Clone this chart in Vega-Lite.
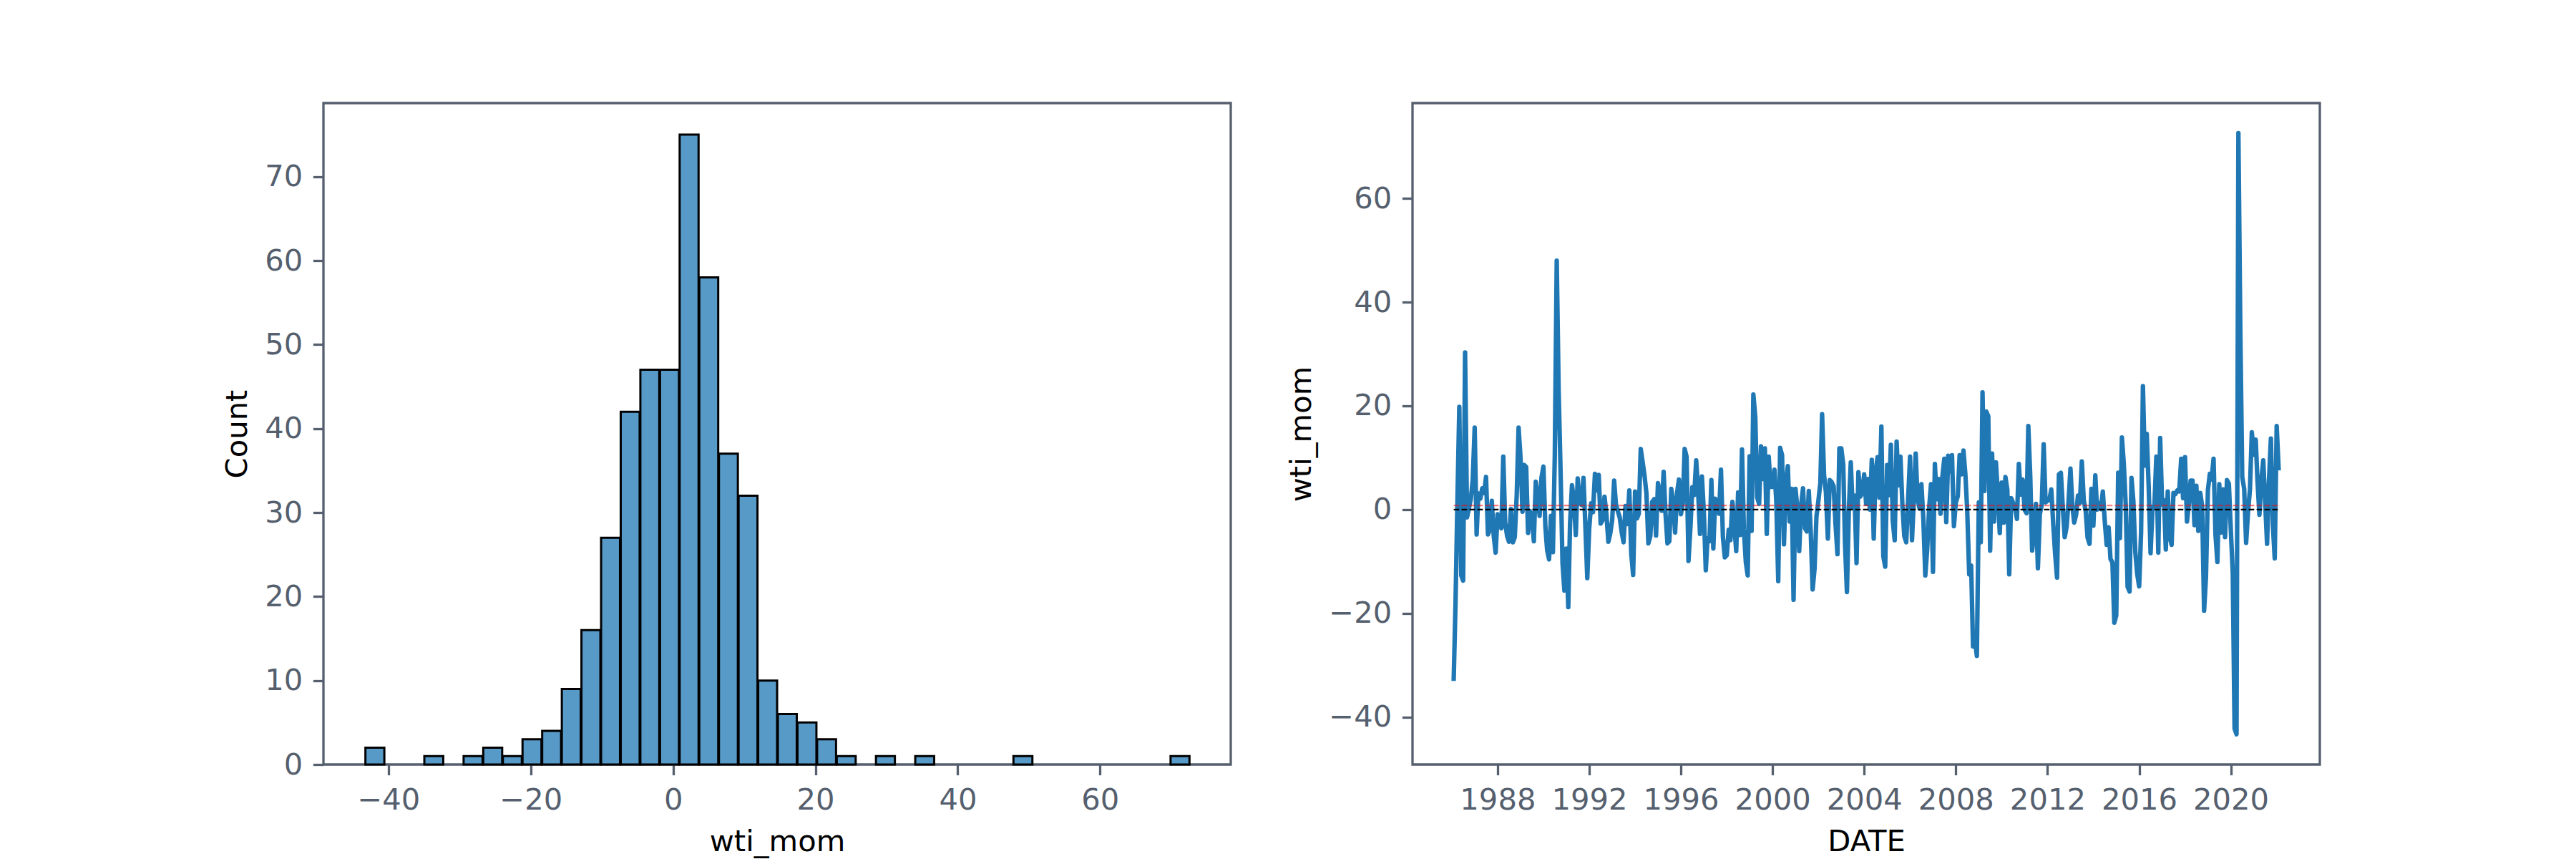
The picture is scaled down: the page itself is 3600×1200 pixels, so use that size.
{
"$schema": "https://vega.github.io/schema/vega-lite/v6.json",
"background": "white",
"padding": {"left": 309, "top": 142, "right": 0, "bottom": 0},
"bounds": "flush",
"spacing": 254,
"config": {
  "view": {"stroke": "#555f6e", "strokeWidth": 3.3},
  "axis": {"domain": false, "grid": false, "tickColor": "#555f6e", "tickWidth": 3.3, "tickSize": 14.6, "labelPadding": 14.6, "labelFont": "DejaVu Sans", "labelFontSize": 41.7, "labelColor": "#555f6e", "titleFont": "DejaVu Sans", "titleFontSize": 41.7, "titleFontWeight": "normal", "titleColor": "black", "titlePadding": 16.7}
},
"datasets": {
  "hist": [
    {"bin_start": -43.34, "bin_end": -40.58, "count": 2},
    {"bin_start": -35.06, "bin_end": -32.30, "count": 1},
    {"bin_start": -29.54, "bin_end": -26.78, "count": 1},
    {"bin_start": -26.78, "bin_end": -24.02, "count": 2},
    {"bin_start": -24.02, "bin_end": -21.26, "count": 1},
    {"bin_start": -21.26, "bin_end": -18.50, "count": 3},
    {"bin_start": -18.50, "bin_end": -15.74, "count": 4},
    {"bin_start": -15.74, "bin_end": -12.98, "count": 9},
    {"bin_start": -12.98, "bin_end": -10.22, "count": 16},
    {"bin_start": -10.22, "bin_end": -7.46, "count": 27},
    {"bin_start": -7.46, "bin_end": -4.70, "count": 42},
    {"bin_start": -4.70, "bin_end": -1.94, "count": 47},
    {"bin_start": -1.94, "bin_end": 0.82, "count": 47},
    {"bin_start": 0.82, "bin_end": 3.58, "count": 75},
    {"bin_start": 3.58, "bin_end": 6.34, "count": 58},
    {"bin_start": 6.34, "bin_end": 9.10, "count": 37},
    {"bin_start": 9.10, "bin_end": 11.86, "count": 32},
    {"bin_start": 11.86, "bin_end": 14.62, "count": 10},
    {"bin_start": 14.62, "bin_end": 17.38, "count": 6},
    {"bin_start": 17.38, "bin_end": 20.14, "count": 5},
    {"bin_start": 20.14, "bin_end": 22.90, "count": 3},
    {"bin_start": 22.90, "bin_end": 25.66, "count": 1},
    {"bin_start": 28.41, "bin_end": 31.17, "count": 1},
    {"bin_start": 33.93, "bin_end": 36.69, "count": 1},
    {"bin_start": 47.73, "bin_end": 50.49, "count": 1},
    {"bin_start": 69.81, "bin_end": 72.57, "count": 1}
  ],
  "series": [
{"DATE":"1986-02-01","wti_mom":-32.6},{"DATE":"1986-03-01","wti_mom":-18.4},{"DATE":"1986-04-01","wti_mom":1.8},{"DATE":"1986-05-01","wti_mom":19.8},{"DATE":"1986-06-01","wti_mom":-12.7},{"DATE":"1986-07-01","wti_mom":-13.7},{"DATE":"1986-08-01","wti_mom":30.3},{"DATE":"1986-09-01","wti_mom":-1.5},{"DATE":"1986-10-01","wti_mom":0.2},{"DATE":"1986-11-01","wti_mom":2.1},{"DATE":"1986-12-01","wti_mom":5.8},
{"DATE":"1987-01-01","wti_mom":15.8},{"DATE":"1987-02-01","wti_mom":-4.8},{"DATE":"1987-03-01","wti_mom":3.1},{"DATE":"1987-04-01","wti_mom":2.1},{"DATE":"1987-05-01","wti_mom":4.1},{"DATE":"1987-06-01","wti_mom":3.2},{"DATE":"1987-07-01","wti_mom":6.3},{"DATE":"1987-08-01","wti_mom":-4.8},{"DATE":"1987-09-01","wti_mom":-3.8},{"DATE":"1987-10-01","wti_mom":1.7},{"DATE":"1987-11-01","wti_mom":-5.1},{"DATE":"1987-12-01","wti_mom":-8.3},
{"DATE":"1988-01-01","wti_mom":-0.9},{"DATE":"1988-02-01","wti_mom":-1.9},{"DATE":"1988-03-01","wti_mom":-3.6},{"DATE":"1988-04-01","wti_mom":10.2},{"DATE":"1988-05-01","wti_mom":-2.5},{"DATE":"1988-06-01","wti_mom":-5.1},{"DATE":"1988-07-01","wti_mom":-6.2},{"DATE":"1988-08-01","wti_mom":0.1},{"DATE":"1988-09-01","wti_mom":-6.3},{"DATE":"1988-10-01","wti_mom":-5.3},{"DATE":"1988-11-01","wti_mom":2.7},{"DATE":"1988-12-01","wti_mom":15.8},
{"DATE":"1989-01-01","wti_mom":10.0},{"DATE":"1989-02-01","wti_mom":-0.4},{"DATE":"1989-03-01","wti_mom":8.6},{"DATE":"1989-04-01","wti_mom":8.2},{"DATE":"1989-05-01","wti_mom":-4.5},{"DATE":"1989-06-01","wti_mom":-0.3},{"DATE":"1989-07-01","wti_mom":-1.3},{"DATE":"1989-08-01","wti_mom":-6.1},{"DATE":"1989-09-01","wti_mom":5.4},{"DATE":"1989-10-01","wti_mom":2.6},{"DATE":"1989-11-01","wti_mom":-1.2},{"DATE":"1989-12-01","wti_mom":6.2},
{"DATE":"1990-01-01","wti_mom":8.3},{"DATE":"1990-02-01","wti_mom":-3.3},{"DATE":"1990-03-01","wti_mom":-7.8},{"DATE":"1990-04-01","wti_mom":-9.6},{"DATE":"1990-05-01","wti_mom":-1.2},{"DATE":"1990-06-01","wti_mom":-8.2},{"DATE":"1990-07-01","wti_mom":10.5},{"DATE":"1990-08-01","wti_mom":48.0},{"DATE":"1990-09-01","wti_mom":22.7},{"DATE":"1990-10-01","wti_mom":7.5},{"DATE":"1990-11-01","wti_mom":-10.3},{"DATE":"1990-12-01","wti_mom":-15.6},
{"DATE":"1991-01-01","wti_mom":-7.5},{"DATE":"1991-02-01","wti_mom":-18.8},{"DATE":"1991-03-01","wti_mom":-2.8},{"DATE":"1991-04-01","wti_mom":4.7},{"DATE":"1991-05-01","wti_mom":1.9},{"DATE":"1991-06-01","wti_mom":-4.9},{"DATE":"1991-07-01","wti_mom":6.0},{"DATE":"1991-08-01","wti_mom":1.4},{"DATE":"1991-09-01","wti_mom":0.9},{"DATE":"1991-10-01","wti_mom":6.1},{"DATE":"1991-11-01","wti_mom":-3.3},{"DATE":"1991-12-01","wti_mom":-13.2},
{"DATE":"1992-01-01","wti_mom":-3.6},{"DATE":"1992-02-01","wti_mom":1.2},{"DATE":"1992-03-01","wti_mom":-0.5},{"DATE":"1992-04-01","wti_mom":6.9},{"DATE":"1992-05-01","wti_mom":3.7},{"DATE":"1992-06-01","wti_mom":6.7},{"DATE":"1992-07-01","wti_mom":-2.7},{"DATE":"1992-08-01","wti_mom":-2.0},{"DATE":"1992-09-01","wti_mom":2.5},{"DATE":"1992-10-01","wti_mom":-0.9},{"DATE":"1992-11-01","wti_mom":-6.2},{"DATE":"1992-12-01","wti_mom":-4.6},
{"DATE":"1993-01-01","wti_mom":-2.0},{"DATE":"1993-02-01","wti_mom":5.6},{"DATE":"1993-03-01","wti_mom":1.1},{"DATE":"1993-04-01","wti_mom":-0.3},{"DATE":"1993-05-01","wti_mom":-1.5},{"DATE":"1993-06-01","wti_mom":-4.3},{"DATE":"1993-07-01","wti_mom":-6.3},{"DATE":"1993-08-01","wti_mom":0.7},{"DATE":"1993-09-01","wti_mom":-2.8},{"DATE":"1993-10-01","wti_mom":3.7},{"DATE":"1993-11-01","wti_mom":-8.5},{"DATE":"1993-12-01","wti_mom":-12.6},
{"DATE":"1994-01-01","wti_mom":3.5},{"DATE":"1994-02-01","wti_mom":-1.7},{"DATE":"1994-03-01","wti_mom":-0.8},{"DATE":"1994-04-01","wti_mom":11.7},{"DATE":"1994-05-01","wti_mom":9.2},{"DATE":"1994-06-01","wti_mom":6.5},{"DATE":"1994-07-01","wti_mom":3.1},{"DATE":"1994-08-01","wti_mom":-6.5},{"DATE":"1994-09-01","wti_mom":-5.1},{"DATE":"1994-10-01","wti_mom":1.5},{"DATE":"1994-11-01","wti_mom":2.0},{"DATE":"1994-12-01","wti_mom":-5.0},
{"DATE":"1995-01-01","wti_mom":5.1},{"DATE":"1995-02-01","wti_mom":2.9},{"DATE":"1995-03-01","wti_mom":-0.2},{"DATE":"1995-04-01","wti_mom":7.3},{"DATE":"1995-05-01","wti_mom":-0.8},{"DATE":"1995-06-01","wti_mom":-6.5},{"DATE":"1995-07-01","wti_mom":-6.1},{"DATE":"1995-08-01","wti_mom":4.0},{"DATE":"1995-09-01","wti_mom":1.2},{"DATE":"1995-10-01","wti_mom":-4.4},{"DATE":"1995-11-01","wti_mom":3.2},{"DATE":"1995-12-01","wti_mom":5.8},
{"DATE":"1996-01-01","wti_mom":-0.9},{"DATE":"1996-02-01","wti_mom":1.2},{"DATE":"1996-03-01","wti_mom":11.7},{"DATE":"1996-04-01","wti_mom":10.2},{"DATE":"1996-05-01","wti_mom":-9.9},{"DATE":"1996-06-01","wti_mom":-3.5},{"DATE":"1996-07-01","wti_mom":4.3},{"DATE":"1996-08-01","wti_mom":2.8},{"DATE":"1996-09-01","wti_mom":9.5},{"DATE":"1996-10-01","wti_mom":3.8},{"DATE":"1996-11-01","wti_mom":-4.7},{"DATE":"1996-12-01","wti_mom":6.4},
{"DATE":"1997-01-01","wti_mom":-0.4},{"DATE":"1997-02-01","wti_mom":-11.7},{"DATE":"1997-03-01","wti_mom":-5.5},{"DATE":"1997-04-01","wti_mom":-6.1},{"DATE":"1997-05-01","wti_mom":5.7},{"DATE":"1997-06-01","wti_mom":-7.5},{"DATE":"1997-07-01","wti_mom":2.1},{"DATE":"1997-08-01","wti_mom":1.5},{"DATE":"1997-09-01","wti_mom":-0.8},{"DATE":"1997-10-01","wti_mom":7.7},{"DATE":"1997-11-01","wti_mom":-5.3},{"DATE":"1997-12-01","wti_mom":-9.2},
{"DATE":"1998-01-01","wti_mom":-8.8},{"DATE":"1998-02-01","wti_mom":-3.9},{"DATE":"1998-03-01","wti_mom":-5.9},{"DATE":"1998-04-01","wti_mom":1.5},{"DATE":"1998-05-01","wti_mom":-2.9},{"DATE":"1998-06-01","wti_mom":-8.0},{"DATE":"1998-07-01","wti_mom":3.3},{"DATE":"1998-08-01","wti_mom":-4.9},{"DATE":"1998-09-01","wti_mom":11.6},{"DATE":"1998-10-01","wti_mom":-3.8},{"DATE":"1998-11-01","wti_mom":-10.1},{"DATE":"1998-12-01","wti_mom":-12.7},
{"DATE":"1999-01-01","wti_mom":10.3},{"DATE":"1999-02-01","wti_mom":-4.1},{"DATE":"1999-03-01","wti_mom":22.2},{"DATE":"1999-04-01","wti_mom":17.9},{"DATE":"1999-05-01","wti_mom":2.4},{"DATE":"1999-06-01","wti_mom":1.1},{"DATE":"1999-07-01","wti_mom":12.2},{"DATE":"1999-08-01","wti_mom":5.9},{"DATE":"1999-09-01","wti_mom":11.8},{"DATE":"1999-10-01","wti_mom":-4.7},{"DATE":"1999-11-01","wti_mom":10.2},{"DATE":"1999-12-01","wti_mom":4.4},
{"DATE":"2000-01-01","wti_mom":4.4},{"DATE":"2000-02-01","wti_mom":7.7},{"DATE":"2000-03-01","wti_mom":1.6},{"DATE":"2000-04-01","wti_mom":-13.8},{"DATE":"2000-05-01","wti_mom":11.9},{"DATE":"2000-06-01","wti_mom":10.5},{"DATE":"2000-07-01","wti_mom":-6.7},{"DATE":"2000-08-01","wti_mom":5.3},{"DATE":"2000-09-01","wti_mom":8.4},{"DATE":"2000-10-01","wti_mom":-2.3},{"DATE":"2000-11-01","wti_mom":4.0},{"DATE":"2000-12-01","wti_mom":-17.4},
{"DATE":"2001-01-01","wti_mom":4.0},{"DATE":"2001-02-01","wti_mom":0.1},{"DATE":"2001-03-01","wti_mom":-8.0},{"DATE":"2001-04-01","wti_mom":0.9},{"DATE":"2001-05-01","wti_mom":4.1},{"DATE":"2001-06-01","wti_mom":-3.6},{"DATE":"2001-07-01","wti_mom":-4.2},{"DATE":"2001-08-01","wti_mom":3.6},{"DATE":"2001-09-01","wti_mom":-4.3},{"DATE":"2001-10-01","wti_mom":-15.4},{"DATE":"2001-11-01","wti_mom":-11.4},{"DATE":"2001-12-01","wti_mom":-1.3},
{"DATE":"2002-01-01","wti_mom":1.7},{"DATE":"2002-02-01","wti_mom":5.1},{"DATE":"2002-03-01","wti_mom":18.4},{"DATE":"2002-04-01","wti_mom":6.7},{"DATE":"2002-05-01","wti_mom":3.3},{"DATE":"2002-06-01","wti_mom":-5.6},{"DATE":"2002-07-01","wti_mom":5.7},{"DATE":"2002-08-01","wti_mom":5.3},{"DATE":"2002-09-01","wti_mom":4.5},{"DATE":"2002-10-01","wti_mom":-2.8},{"DATE":"2002-11-01","wti_mom":-8.6},{"DATE":"2002-12-01","wti_mom":11.8},
{"DATE":"2003-01-01","wti_mom":11.8},{"DATE":"2003-02-01","wti_mom":8.7},{"DATE":"2003-03-01","wti_mom":-6.5},{"DATE":"2003-04-01","wti_mom":-15.9},{"DATE":"2003-05-01","wti_mom":-0.2},{"DATE":"2003-06-01","wti_mom":9.1},{"DATE":"2003-07-01","wti_mom":0.3},{"DATE":"2003-08-01","wti_mom":2.7},{"DATE":"2003-09-01","wti_mom":-10.3},{"DATE":"2003-10-01","wti_mom":7.2},{"DATE":"2003-11-01","wti_mom":2.5},{"DATE":"2003-12-01","wti_mom":3.3},
{"DATE":"2004-01-01","wti_mom":6.8},{"DATE":"2004-02-01","wti_mom":1.1},{"DATE":"2004-03-01","wti_mom":5.9},{"DATE":"2004-04-01","wti_mom":0.0},{"DATE":"2004-05-01","wti_mom":9.6},{"DATE":"2004-06-01","wti_mom":-5.6},{"DATE":"2004-07-01","wti_mom":7.2},{"DATE":"2004-08-01","wti_mom":10.1},{"DATE":"2004-09-01","wti_mom":2.3},{"DATE":"2004-10-01","wti_mom":16.0},{"DATE":"2004-11-01","wti_mom":-9.0},{"DATE":"2004-12-01","wti_mom":-11.0},
{"DATE":"2005-01-01","wti_mom":8.6},{"DATE":"2005-02-01","wti_mom":2.8},{"DATE":"2005-03-01","wti_mom":12.5},{"DATE":"2005-04-01","wti_mom":-2.2},{"DATE":"2005-05-01","wti_mom":-5.9},{"DATE":"2005-06-01","wti_mom":13.1},{"DATE":"2005-07-01","wti_mom":4.7},{"DATE":"2005-08-01","wti_mom":10.2},{"DATE":"2005-09-01","wti_mom":0.9},{"DATE":"2005-10-01","wti_mom":-5.1},{"DATE":"2005-11-01","wti_mom":-6.3},{"DATE":"2005-12-01","wti_mom":1.9},
{"DATE":"2006-01-01","wti_mom":10.2},{"DATE":"2006-02-01","wti_mom":-5.9},{"DATE":"2006-03-01","wti_mom":1.7},{"DATE":"2006-04-01","wti_mom":10.8},{"DATE":"2006-05-01","wti_mom":2.0},{"DATE":"2006-06-01","wti_mom":0.2},{"DATE":"2006-07-01","wti_mom":4.9},{"DATE":"2006-08-01","wti_mom":-1.8},{"DATE":"2006-09-01","wti_mom":-12.7},{"DATE":"2006-10-01","wti_mom":-7.7},{"DATE":"2006-11-01","wti_mom":0.3},{"DATE":"2006-12-01","wti_mom":4.9},
{"DATE":"2007-01-01","wti_mom":-12.0},{"DATE":"2007-02-01","wti_mom":8.8},{"DATE":"2007-03-01","wti_mom":2.0},{"DATE":"2007-04-01","wti_mom":5.9},{"DATE":"2007-05-01","wti_mom":-0.8},{"DATE":"2007-06-01","wti_mom":6.4},{"DATE":"2007-07-01","wti_mom":9.8},{"DATE":"2007-08-01","wti_mom":-2.4},{"DATE":"2007-09-01","wti_mom":10.4},{"DATE":"2007-10-01","wti_mom":7.4},{"DATE":"2007-11-01","wti_mom":10.5},{"DATE":"2007-12-01","wti_mom":-3.2},
{"DATE":"2008-01-01","wti_mom":1.4},{"DATE":"2008-02-01","wti_mom":2.6},{"DATE":"2008-03-01","wti_mom":10.5},{"DATE":"2008-04-01","wti_mom":6.8},{"DATE":"2008-05-01","wti_mom":11.4},{"DATE":"2008-06-01","wti_mom":6.8},{"DATE":"2008-07-01","wti_mom":-0.4},{"DATE":"2008-08-01","wti_mom":-12.5},{"DATE":"2008-09-01","wti_mom":-10.8},{"DATE":"2008-10-01","wti_mom":-26.4},{"DATE":"2008-11-01","wti_mom":-25.2},{"DATE":"2008-12-01","wti_mom":-28.2},
{"DATE":"2009-01-01","wti_mom":1.4},{"DATE":"2009-02-01","wti_mom":-6.3},{"DATE":"2009-03-01","wti_mom":22.6},{"DATE":"2009-04-01","wti_mom":3.6},{"DATE":"2009-05-01","wti_mom":18.9},{"DATE":"2009-06-01","wti_mom":18.0},{"DATE":"2009-07-01","wti_mom":-7.9},{"DATE":"2009-08-01","wti_mom":10.8},{"DATE":"2009-09-01","wti_mom":-2.3},{"DATE":"2009-10-01","wti_mom":9.1},{"DATE":"2009-11-01","wti_mom":3.0},{"DATE":"2009-12-01","wti_mom":-4.5},
{"DATE":"2010-01-01","wti_mom":5.2},{"DATE":"2010-02-01","wti_mom":-2.5},{"DATE":"2010-03-01","wti_mom":6.3},{"DATE":"2010-04-01","wti_mom":3.8},{"DATE":"2010-05-01","wti_mom":-12.5},{"DATE":"2010-06-01","wti_mom":2.2},{"DATE":"2010-07-01","wti_mom":1.3},{"DATE":"2010-08-01","wti_mom":0.4},{"DATE":"2010-09-01","wti_mom":-1.8},{"DATE":"2010-10-01","wti_mom":8.8},{"DATE":"2010-11-01","wti_mom":2.9},{"DATE":"2010-12-01","wti_mom":5.8},
{"DATE":"2011-01-01","wti_mom":0.0},{"DATE":"2011-02-01","wti_mom":-0.7},{"DATE":"2011-03-01","wti_mom":16.1},{"DATE":"2011-04-01","wti_mom":6.5},{"DATE":"2011-05-01","wti_mom":-7.9},{"DATE":"2011-06-01","wti_mom":-4.6},{"DATE":"2011-07-01","wti_mom":1.1},{"DATE":"2011-08-01","wti_mom":-11.3},{"DATE":"2011-09-01","wti_mom":-0.9},{"DATE":"2011-10-01","wti_mom":0.9},{"DATE":"2011-11-01","wti_mom":12.6},{"DATE":"2011-12-01","wti_mom":1.4},
{"DATE":"2012-01-01","wti_mom":1.7},{"DATE":"2012-02-01","wti_mom":1.9},{"DATE":"2012-03-01","wti_mom":3.9},{"DATE":"2012-04-01","wti_mom":-2.7},{"DATE":"2012-05-01","wti_mom":-8.4},{"DATE":"2012-06-01","wti_mom":-13.1},{"DATE":"2012-07-01","wti_mom":6.8},{"DATE":"2012-08-01","wti_mom":7.1},{"DATE":"2012-09-01","wti_mom":0.4},{"DATE":"2012-10-01","wti_mom":-5.3},{"DATE":"2012-11-01","wti_mom":-3.3},{"DATE":"2012-12-01","wti_mom":1.5},
{"DATE":"2013-01-01","wti_mom":7.9},{"DATE":"2013-02-01","wti_mom":0.6},{"DATE":"2013-03-01","wti_mom":-2.5},{"DATE":"2013-04-01","wti_mom":-1.0},{"DATE":"2013-05-01","wti_mom":2.7},{"DATE":"2013-06-01","wti_mom":1.3},{"DATE":"2013-07-01","wti_mom":9.3},{"DATE":"2013-08-01","wti_mom":1.8},{"DATE":"2013-09-01","wti_mom":-0.3},{"DATE":"2013-10-01","wti_mom":-5.4},{"DATE":"2013-11-01","wti_mom":-6.6},{"DATE":"2013-12-01","wti_mom":4.0},
{"DATE":"2014-01-01","wti_mom":-3.1},{"DATE":"2014-02-01","wti_mom":6.6},{"DATE":"2014-03-01","wti_mom":0.0},{"DATE":"2014-04-01","wti_mom":1.3},{"DATE":"2014-05-01","wti_mom":0.1},{"DATE":"2014-06-01","wti_mom":3.5},{"DATE":"2014-07-01","wti_mom":-2.1},{"DATE":"2014-08-01","wti_mom":-6.8},{"DATE":"2014-09-01","wti_mom":-3.4},{"DATE":"2014-10-01","wti_mom":-9.5},{"DATE":"2014-11-01","wti_mom":-10.2},{"DATE":"2014-12-01","wti_mom":-21.8},
{"DATE":"2015-01-01","wti_mom":-20.4},{"DATE":"2015-02-01","wti_mom":7.1},{"DATE":"2015-03-01","wti_mom":-5.5},{"DATE":"2015-04-01","wti_mom":13.9},{"DATE":"2015-05-01","wti_mom":8.9},{"DATE":"2015-06-01","wti_mom":0.9},{"DATE":"2015-07-01","wti_mom":-14.9},{"DATE":"2015-08-01","wti_mom":-15.8},{"DATE":"2015-09-01","wti_mom":6.1},{"DATE":"2015-10-01","wti_mom":1.6},{"DATE":"2015-11-01","wti_mom":-8.2},{"DATE":"2015-12-01","wti_mom":-12.4},
{"DATE":"2016-01-01","wti_mom":-14.8},{"DATE":"2016-02-01","wti_mom":-4.3},{"DATE":"2016-03-01","wti_mom":23.8},{"DATE":"2016-04-01","wti_mom":8.5},{"DATE":"2016-05-01","wti_mom":14.6},{"DATE":"2016-06-01","wti_mom":4.4},{"DATE":"2016-07-01","wti_mom":-8.4},{"DATE":"2016-08-01","wti_mom":0.2},{"DATE":"2016-09-01","wti_mom":1.0},{"DATE":"2016-10-01","wti_mom":10.2},{"DATE":"2016-11-01","wti_mom":-8.3},{"DATE":"2016-12-01","wti_mom":13.8},
{"DATE":"2017-01-01","wti_mom":1.0},{"DATE":"2017-02-01","wti_mom":1.8},{"DATE":"2017-03-01","wti_mom":-7.7},{"DATE":"2017-04-01","wti_mom":3.5},{"DATE":"2017-05-01","wti_mom":-5.1},{"DATE":"2017-06-01","wti_mom":-6.8},{"DATE":"2017-07-01","wti_mom":3.2},{"DATE":"2017-08-01","wti_mom":3.0},{"DATE":"2017-09-01","wti_mom":3.7},{"DATE":"2017-10-01","wti_mom":3.5},{"DATE":"2017-11-01","wti_mom":9.8},{"DATE":"2017-12-01","wti_mom":2.2},
{"DATE":"2018-01-01","wti_mom":10.1},{"DATE":"2018-02-01","wti_mom":-2.3},{"DATE":"2018-03-01","wti_mom":0.8},{"DATE":"2018-04-01","wti_mom":5.6},{"DATE":"2018-05-01","wti_mom":5.6},{"DATE":"2018-06-01","wti_mom":-3.0},{"DATE":"2018-07-01","wti_mom":4.6},{"DATE":"2018-08-01","wti_mom":-4.1},{"DATE":"2018-09-01","wti_mom":3.2},{"DATE":"2018-10-01","wti_mom":0.7},{"DATE":"2018-11-01","wti_mom":-19.5},{"DATE":"2018-12-01","wti_mom":-13.1},
{"DATE":"2019-01-01","wti_mom":3.8},{"DATE":"2019-02-01","wti_mom":6.9},{"DATE":"2019-03-01","wti_mom":5.8},{"DATE":"2019-04-01","wti_mom":9.8},{"DATE":"2019-05-01","wti_mom":-4.7},{"DATE":"2019-06-01","wti_mom":-10.1},{"DATE":"2019-07-01","wti_mom":4.9},{"DATE":"2019-08-01","wti_mom":-4.4},{"DATE":"2019-09-01","wti_mom":3.9},{"DATE":"2019-10-01","wti_mom":-5.3},{"DATE":"2019-11-01","wti_mom":5.7},{"DATE":"2019-12-01","wti_mom":5.0},
{"DATE":"2020-01-01","wti_mom":-3.9},{"DATE":"2020-02-01","wti_mom":-12.1},{"DATE":"2020-03-01","wti_mom":-42.2},{"DATE":"2020-04-01","wti_mom":-43.3},{"DATE":"2020-05-01","wti_mom":72.6},{"DATE":"2020-06-01","wti_mom":34.1},{"DATE":"2020-07-01","wti_mom":6.3},{"DATE":"2020-08-01","wti_mom":4.0},{"DATE":"2020-09-01","wti_mom":-6.4},{"DATE":"2020-10-01","wti_mom":-0.6},{"DATE":"2020-11-01","wti_mom":3.9},{"DATE":"2020-12-01","wti_mom":14.9},
{"DATE":"2021-01-01","wti_mom":10.6},{"DATE":"2021-02-01","wti_mom":13.5},{"DATE":"2021-03-01","wti_mom":5.6},{"DATE":"2021-04-01","wti_mom":-1.0},{"DATE":"2021-05-01","wti_mom":5.6},{"DATE":"2021-06-01","wti_mom":9.5},{"DATE":"2021-07-01","wti_mom":1.6},{"DATE":"2021-08-01","wti_mom":-6.6},{"DATE":"2021-09-01","wti_mom":5.8},{"DATE":"2021-10-01","wti_mom":13.7},{"DATE":"2021-11-01","wti_mom":-2.9},{"DATE":"2021-12-01","wti_mom":-9.4},
{"DATE":"2022-01-01","wti_mom":16.1},{"DATE":"2022-02-01","wti_mom":8.0}
  ]
},
"hconcat": [
  {
    "width": 1268, "height": 924,
    "data": {"name": "hist"},
    "mark": {"type": "bar", "fill": "#5799c7", "stroke": "black", "strokeWidth": 3},
    "encoding": {
      "x": {"field": "bin_start", "type": "quantitative", "bin": "binned", "scale": {"domain": [-49.14, 78.37], "nice": false, "zero": false}, "axis": {"title": "wti_mom", "values": [-40, -20, 0, 20, 40, 60], "format": "d"}},
      "x2": {"field": "bin_end"},
      "y": {"field": "count", "type": "quantitative", "scale": {"domain": [0, 78.75], "nice": false}, "axis": {"title": "Count", "values": [0, 10, 20, 30, 40, 50, 60, 70], "format": "d"}}
    }
  },
  {
    "width": 1268, "height": 924,
    "data": {"name": "series"},
    "encoding": {
      "x": {"field": "DATE", "type": "temporal", "scale": {"type": "utc", "domain": [{"year": 1984, "month": 4, "date": 15, "utc": true}, {"year": 2023, "month": 11, "date": 20, "utc": true}]}, "axis": {"title": "DATE", "format": "%Y", "values": [{"year": 1988, "month": 1, "date": 1, "utc": true}, {"year": 1992, "month": 1, "date": 1, "utc": true}, {"year": 1996, "month": 1, "date": 1, "utc": true}, {"year": 2000, "month": 1, "date": 1, "utc": true}, {"year": 2004, "month": 1, "date": 1, "utc": true}, {"year": 2008, "month": 1, "date": 1, "utc": true}, {"year": 2012, "month": 1, "date": 1, "utc": true}, {"year": 2016, "month": 1, "date": 1, "utc": true}, {"year": 2020, "month": 1, "date": 1, "utc": true}]}}
    },
    "layer": [
      {
        "mark": {"type": "line", "color": "#1f77b4", "strokeWidth": 6.25, "strokeJoin": "round", "strokeCap": "square"},
        "encoding": {
          "y": {"field": "wti_mom", "type": "quantitative", "scale": {"domain": [-49.14, 78.37], "nice": false, "zero": false}, "axis": {"title": "wti_mom", "values": [-40, -20, 0, 20, 40, 60], "format": "d"}}
        }
      },
      {
        "mark": {"type": "rule", "color": "black", "strokeWidth": 2.1, "strokeDash": [7.7, 3.3]},
        "encoding": {
          "x": {"aggregate": "min", "field": "DATE", "type": "temporal"},
          "x2": {"aggregate": "max", "field": "DATE"},
          "y": {"datum": 0, "type": "quantitative"}
        }
      },
      {
        "mark": {"type": "rule", "color": "red", "opacity": 0.5, "strokeWidth": 2.1, "strokeDash": [7.7, 3.3]},
        "encoding": {
          "x": {"aggregate": "min", "field": "DATE", "type": "temporal"},
          "x2": {"aggregate": "max", "field": "DATE"},
          "y": {"aggregate": "mean", "field": "wti_mom", "type": "quantitative"}
        }
      }
    ]
  }
]
}
